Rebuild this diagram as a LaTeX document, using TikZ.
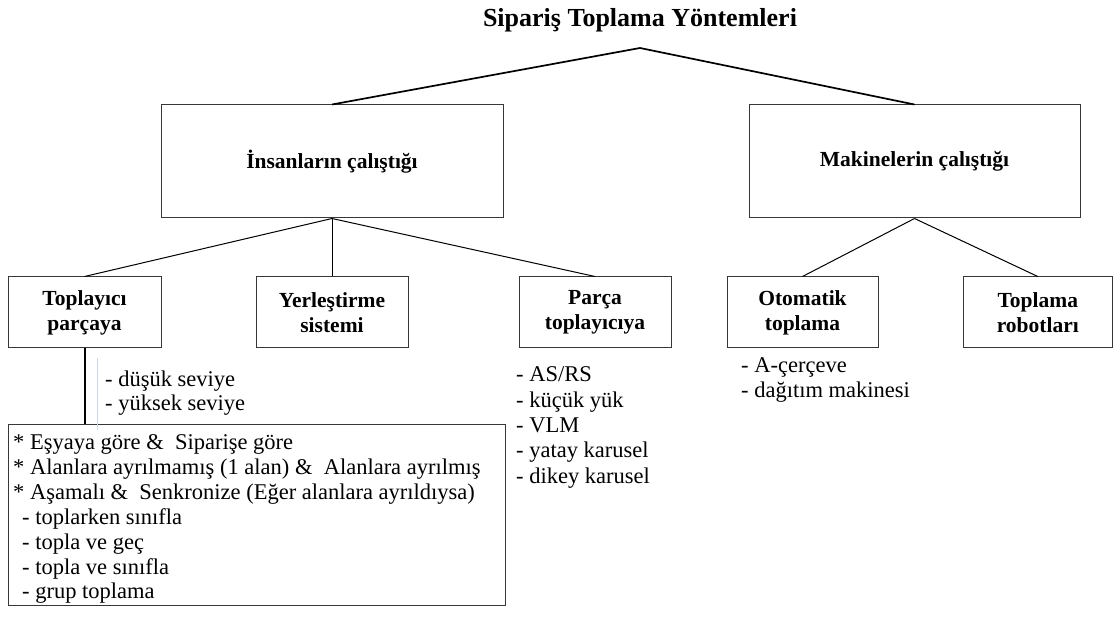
\documentclass[tikz,border=0pt]{standalone}
\usepackage{fontspec}
\setmainfont{Liberation Serif}
\definecolor{frame}{RGB}{55,55,55}
\definecolor{faint}{RGB}{205,215,233}
\begin{document}
\begin{tikzpicture}[x=1pt,y=-1pt,
  box/.style={draw=frame, line width=1pt, inner sep=0pt, align=center,
    font=\bfseries\fontsize{21.5}{25}\selectfont},
  bigbox/.style={box, minimum width=#1, minimum height=113pt},
  smallbox/.style={box, minimum width=#1, minimum height=71pt},
  item/.style={anchor=base west, inner sep=0pt, font=\fontsize{22.5}{24}\selectfont},
  link/.style={line width=1pt},
  rootlink/.style={line width=1.7pt}]
\useasboundingbox (0,0) rectangle (1114,617);

% root
\node[inner sep=0pt, font=\bfseries\fontsize{26}{30}\selectfont] (title) at (640,20) {Sipariş Toplama Yöntemleri};
\coordinate (apex) at (640,48);

% first level
\node[bigbox=342pt] (hum) at (332,161.5) {İnsanların çalıştığı};
\node[bigbox=331pt] (mac) at (914.5,161.5) {Makinelerin çalıştığı};

% second level
\node[smallbox=153pt] (pick) at (84.5,312.5) {Toplayıcı\\parçaya};
\node[smallbox=152pt] (put)  at (332,312.5) {Yerleştirme\\sistemi};
\node[smallbox=152pt] (part) at (595,312.5) {Parça\\toplayıcıya};
\node[smallbox=151pt] (auto) at (802.5,312.5) {Otomatik\\toplama};
\node[smallbox=149.5pt] (robot) at (1037.75,312.5) {Toplama\\robotları};

% detail box under "Toplayıcı parçaya"
\node[draw=frame, line width=1pt, inner sep=0pt, minimum width=497pt, minimum height=180pt] (detail) at (256.5,515) {};

% connectors
\draw[rootlink] (hum.north) -- (apex) -- (mac.north);
\draw[link] (hum.south) -- (pick.north);
\draw[link] (hum.south) -- (put.north);
\draw[link] (hum.south) -- (part.north);
\draw[link] (mac.south) -- (auto.north);
\draw[link] (mac.south) -- (robot.north);
\draw[line width=2pt] (pick.south) -- (pick.south |- detail.north);
\coordinate (fa) at (97,358);
\coordinate (fb) at (97,430);
\draw[faint, line width=1pt] (fa) -- (fb);

% picker-to-parts levels
\node[item] (lv1) at (105,386.5) {- düşük seviye};
\node[item] (lv2) at (105,411) {- yüksek seviye};

% parts-to-picker systems
\node[item] (pp1) at (516,382) {- AS/RS};
\node[item] (pp2) at (516,407.3) {- küçük yük};
\node[item] (pp3) at (516,432.6) {- VLM};
\node[item] (pp4) at (516,457.9) {- yatay karusel};
\node[item] (pp5) at (516,483.2) {- dikey karusel};

% automated picking
\node[item] (ap1) at (741,373) {- A-çerçeve};
\node[item] (ap2) at (741,398) {- dağıtım makinesi};

% detail lines
\node[item] (d1) at (13,449.5) {* Eşyaya göre \&\ \ Siparişe göre};
\node[item] (d2) at (13,474.4) {* Alanlara ayrılmamış (1 alan) \&\ \ Alanlara ayrılmış};
\node[item] (d3) at (13,499.3) {* Aşamalı \&\ \ Senkronize (Eğer alanlara ayrıldıysa)};
\node[item] (d4) at (22,524.2) {- toplarken sınıfla};
\node[item] (d5) at (22,549.1) {- topla ve geç};
\node[item] (d6) at (22,574) {- topla ve sınıfla};
\node[item] (d7) at (22,598.9) {- grup toplama};
\end{tikzpicture}
\end{document}
